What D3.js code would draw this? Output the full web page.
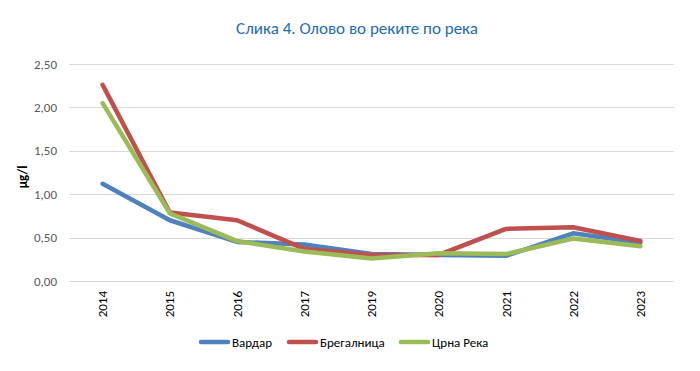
<!DOCTYPE html>
<html>
<head>
<meta charset="utf-8">
<script src="https://cdn.jsdelivr.net/npm/d3@7"></script>
<style>
  html, body { margin: 0; padding: 0; background: #fff; }
  svg { display: block; font-family: Carlito, 'Liberation Sans Narrow', 'Liberation Sans', sans-serif; }
</style>
</head>
<body>
<svg id="chart" width="700" height="371"></svg>
<script>
'use strict';

// Years on the category axis (2018 is missing in the source)
const years = ['2014', '2015', '2016', '2017', '2019', '2020', '2021', '2022', '2023'];

// Lead concentration, µg/l
const vardar = [1.12, 0.70, 0.45, 0.42, 0.31, 0.30, 0.29, 0.55, 0.44];
const bregalnica = [2.26, 0.79, 0.70, 0.37, 0.30, 0.30, 0.60, 0.62, 0.46];
const crnaReka = [2.05, 0.78, 0.46, 0.34, 0.26, 0.32, 0.31, 0.49, 0.40];

const seriesNames = ['Вардар', 'Брегалница', 'Црна Река'];
const yTicks = [0, 0.5, 1, 1.5, 2, 2.5];

const colors = ['#4F81BD', '#C0504D', '#9BBB59'];
const series = [vardar, bregalnica, crnaReka].map((values, i) => ({
  name: seriesNames[i], color: colors[i], values
}));

const svg = d3.select('#chart');
const margin = { left: 69, right: 26, top: 64, bottom: 90 };
const width = 700, height = 371;

const x = d3.scaleBand().domain(years).range([margin.left, width - margin.right]);
const y = d3.scaleLinear().domain([0, 2.5]).range([281, 64]);

// Title
svg.append('text')
  .attr('x', 357)
  .attr('y', 34)
  .attr('text-anchor', 'middle')
  .attr('fill', '#1F6CB0')
  .style('font-size', '17px')
  .text('Слика 4. Олово во реките по река');

// Gridlines
svg.append('g')
  .selectAll('line')
  .data(yTicks)
  .join('line')
  .attr('x1', x.range()[0])
  .attr('x2', x.range()[1])
  .attr('y1', d => Math.round(y(d)) + 0.5)
  .attr('y2', d => Math.round(y(d)) + 0.5)
  .attr('stroke', '#D9D9D9')
  .attr('stroke-width', 1);

// Y axis labels
const fmt = d => d3.format('.2f')(d).replace('.', ',');
svg.append('g')
  .selectAll('text')
  .data(yTicks)
  .join('text')
  .attr('x', 57)
  .attr('y', d => y(d))
  .attr('dy', '0.35em')
  .attr('text-anchor', 'end')
  .attr('fill', '#595959')
  .style('font-size', '13px')
  .text(fmt);

// Y axis title
svg.append('text')
  .attr('transform', 'translate(27,177) rotate(-90)')
  .attr('text-anchor', 'middle')
  .attr('fill', '#000')
  .style('font-size', '13px')
  .style('font-weight', 'bold')
  .text('µg/l');

// X axis labels (rotated)
svg.append('g')
  .selectAll('text')
  .data(years)
  .join('text')
  .attr('transform', d => `translate(${x(d) + x.bandwidth() / 2},291) rotate(-90)`)
  .attr('text-anchor', 'end')
  .attr('dy', '0.35em')
  .attr('fill', '#000')
  .style('font-size', '13px')
  .text(d => d);

// Lines
const line = d3.line()
  .x((d, i) => x(years[i]) + x.bandwidth() / 2)
  .y(d => y(d));

svg.append('g')
  .selectAll('path')
  .data(series)
  .join('path')
  .attr('d', d => line(d.values))
  .attr('fill', 'none')
  .attr('stroke', d => d.color)
  .attr('stroke-width', 4.5)
  .attr('stroke-linejoin', 'round')
  .attr('stroke-linecap', 'round');

// Legend
const legendX = [201, 289, 401];
const legend = svg.append('g')
  .selectAll('g')
  .data(series)
  .join('g')
  .attr('transform', (d, i) => `translate(${legendX[i]},342)`);

legend.append('line')
  .attr('x1', 0)
  .attr('x2', 27)
  .attr('stroke', d => d.color)
  .attr('stroke-width', 4.5)
  .attr('stroke-linecap', 'round');

legend.append('text')
  .attr('x', 31)
  .attr('dy', '0.35em')
  .attr('fill', '#000')
  .style('font-size', '13px')
  .text(d => d.name);
</script>
</body>
</html>
